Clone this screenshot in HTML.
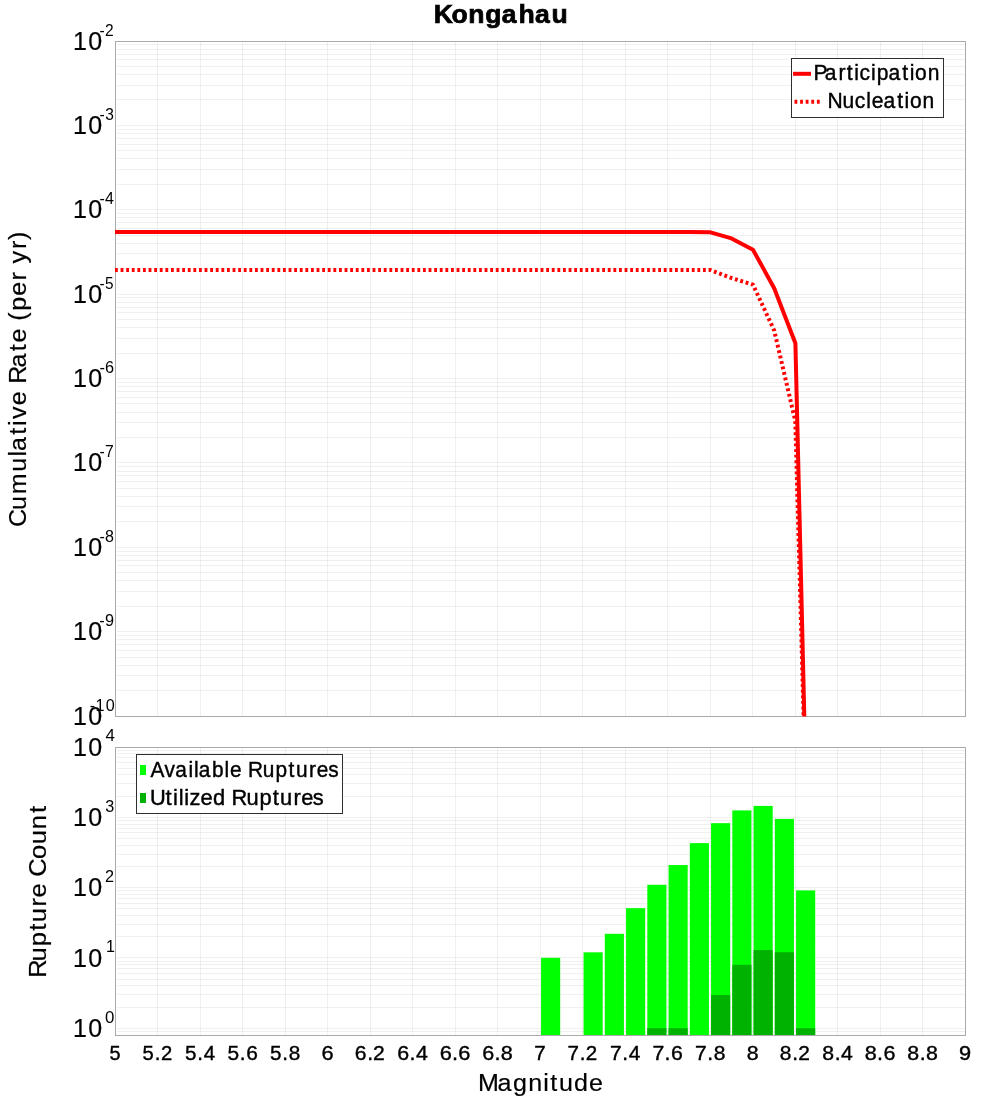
<!DOCTYPE html>
<html><head><meta charset="utf-8"><title>Kongahau</title>
<style>
html,body{margin:0;padding:0;background:#ffffff;}
svg{display:block;will-change:transform;}
text{font-family:"Liberation Sans",sans-serif;fill:#000;}
</style></head><body>
<svg width="1000" height="1100" viewBox="0 0 1000 1100">
<rect x="0" y="0" width="1000" height="1100" fill="#ffffff"/>
<rect x="157" y="42" width="1" height="674" fill="rgba(0,0,0,0.06)"/>
<rect x="200" y="42" width="1" height="674" fill="rgba(0,0,0,0.06)"/>
<rect x="242" y="42" width="1" height="674" fill="rgba(0,0,0,0.06)"/>
<rect x="285" y="42" width="1" height="674" fill="rgba(0,0,0,0.06)"/>
<rect x="327" y="42" width="1" height="674" fill="rgba(0,0,0,0.06)"/>
<rect x="370" y="42" width="1" height="674" fill="rgba(0,0,0,0.06)"/>
<rect x="412" y="42" width="1" height="674" fill="rgba(0,0,0,0.06)"/>
<rect x="455" y="42" width="1" height="674" fill="rgba(0,0,0,0.06)"/>
<rect x="497" y="42" width="1" height="674" fill="rgba(0,0,0,0.06)"/>
<rect x="540" y="42" width="1" height="674" fill="rgba(0,0,0,0.06)"/>
<rect x="582" y="42" width="1" height="674" fill="rgba(0,0,0,0.06)"/>
<rect x="625" y="42" width="1" height="674" fill="rgba(0,0,0,0.06)"/>
<rect x="667" y="42" width="1" height="674" fill="rgba(0,0,0,0.06)"/>
<rect x="710" y="42" width="1" height="674" fill="rgba(0,0,0,0.06)"/>
<rect x="752" y="42" width="1" height="674" fill="rgba(0,0,0,0.06)"/>
<rect x="795" y="42" width="1" height="674" fill="rgba(0,0,0,0.06)"/>
<rect x="837" y="42" width="1" height="674" fill="rgba(0,0,0,0.06)"/>
<rect x="880" y="42" width="1" height="674" fill="rgba(0,0,0,0.06)"/>
<rect x="922" y="42" width="1" height="674" fill="rgba(0,0,0,0.06)"/>
<rect x="117.0" y="44" width="848.0" height="1" fill="rgba(0,0,0,0.06)"/>
<rect x="117.0" y="49" width="848.0" height="1" fill="rgba(0,0,0,0.06)"/>
<rect x="117.0" y="54" width="848.0" height="1" fill="rgba(0,0,0,0.06)"/>
<rect x="117.0" y="59" width="848.0" height="1" fill="rgba(0,0,0,0.06)"/>
<rect x="117.0" y="66" width="848.0" height="1" fill="rgba(0,0,0,0.06)"/>
<rect x="117.0" y="74" width="848.0" height="1" fill="rgba(0,0,0,0.06)"/>
<rect x="117.0" y="85" width="848.0" height="1" fill="rgba(0,0,0,0.06)"/>
<rect x="117.0" y="99" width="848.0" height="1" fill="rgba(0,0,0,0.06)"/>
<rect x="117.0" y="125" width="848.0" height="1" fill="rgba(0,0,0,0.06)"/>
<rect x="117.0" y="129" width="848.0" height="1" fill="rgba(0,0,0,0.06)"/>
<rect x="117.0" y="133" width="848.0" height="1" fill="rgba(0,0,0,0.06)"/>
<rect x="117.0" y="138" width="848.0" height="1" fill="rgba(0,0,0,0.06)"/>
<rect x="117.0" y="144" width="848.0" height="1" fill="rgba(0,0,0,0.06)"/>
<rect x="117.0" y="150" width="848.0" height="1" fill="rgba(0,0,0,0.06)"/>
<rect x="117.0" y="158" width="848.0" height="1" fill="rgba(0,0,0,0.06)"/>
<rect x="117.0" y="169" width="848.0" height="1" fill="rgba(0,0,0,0.06)"/>
<rect x="117.0" y="184" width="848.0" height="1" fill="rgba(0,0,0,0.06)"/>
<rect x="117.0" y="209" width="848.0" height="1" fill="rgba(0,0,0,0.06)"/>
<rect x="117.0" y="213" width="848.0" height="1" fill="rgba(0,0,0,0.06)"/>
<rect x="117.0" y="217" width="848.0" height="1" fill="rgba(0,0,0,0.06)"/>
<rect x="117.0" y="222" width="848.0" height="1" fill="rgba(0,0,0,0.06)"/>
<rect x="117.0" y="228" width="848.0" height="1" fill="rgba(0,0,0,0.06)"/>
<rect x="117.0" y="235" width="848.0" height="1" fill="rgba(0,0,0,0.06)"/>
<rect x="117.0" y="243" width="848.0" height="1" fill="rgba(0,0,0,0.06)"/>
<rect x="117.0" y="253" width="848.0" height="1" fill="rgba(0,0,0,0.06)"/>
<rect x="117.0" y="268" width="848.0" height="1" fill="rgba(0,0,0,0.06)"/>
<rect x="117.0" y="294" width="848.0" height="1" fill="rgba(0,0,0,0.06)"/>
<rect x="117.0" y="297" width="848.0" height="1" fill="rgba(0,0,0,0.06)"/>
<rect x="117.0" y="302" width="848.0" height="1" fill="rgba(0,0,0,0.06)"/>
<rect x="117.0" y="307" width="848.0" height="1" fill="rgba(0,0,0,0.06)"/>
<rect x="117.0" y="312" width="848.0" height="1" fill="rgba(0,0,0,0.06)"/>
<rect x="117.0" y="319" width="848.0" height="1" fill="rgba(0,0,0,0.06)"/>
<rect x="117.0" y="327" width="848.0" height="1" fill="rgba(0,0,0,0.06)"/>
<rect x="117.0" y="338" width="848.0" height="1" fill="rgba(0,0,0,0.06)"/>
<rect x="117.0" y="353" width="848.0" height="1" fill="rgba(0,0,0,0.06)"/>
<rect x="117.0" y="378" width="848.0" height="1" fill="rgba(0,0,0,0.06)"/>
<rect x="117.0" y="382" width="848.0" height="1" fill="rgba(0,0,0,0.06)"/>
<rect x="117.0" y="386" width="848.0" height="1" fill="rgba(0,0,0,0.06)"/>
<rect x="117.0" y="391" width="848.0" height="1" fill="rgba(0,0,0,0.06)"/>
<rect x="117.0" y="397" width="848.0" height="1" fill="rgba(0,0,0,0.06)"/>
<rect x="117.0" y="403" width="848.0" height="1" fill="rgba(0,0,0,0.06)"/>
<rect x="117.0" y="412" width="848.0" height="1" fill="rgba(0,0,0,0.06)"/>
<rect x="117.0" y="422" width="848.0" height="1" fill="rgba(0,0,0,0.06)"/>
<rect x="117.0" y="437" width="848.0" height="1" fill="rgba(0,0,0,0.06)"/>
<rect x="117.0" y="462" width="848.0" height="1" fill="rgba(0,0,0,0.06)"/>
<rect x="117.0" y="466" width="848.0" height="1" fill="rgba(0,0,0,0.06)"/>
<rect x="117.0" y="471" width="848.0" height="1" fill="rgba(0,0,0,0.06)"/>
<rect x="117.0" y="475" width="848.0" height="1" fill="rgba(0,0,0,0.06)"/>
<rect x="117.0" y="481" width="848.0" height="1" fill="rgba(0,0,0,0.06)"/>
<rect x="117.0" y="488" width="848.0" height="1" fill="rgba(0,0,0,0.06)"/>
<rect x="117.0" y="496" width="848.0" height="1" fill="rgba(0,0,0,0.06)"/>
<rect x="117.0" y="506" width="848.0" height="1" fill="rgba(0,0,0,0.06)"/>
<rect x="117.0" y="521" width="848.0" height="1" fill="rgba(0,0,0,0.06)"/>
<rect x="117.0" y="547" width="848.0" height="1" fill="rgba(0,0,0,0.06)"/>
<rect x="117.0" y="551" width="848.0" height="1" fill="rgba(0,0,0,0.06)"/>
<rect x="117.0" y="555" width="848.0" height="1" fill="rgba(0,0,0,0.06)"/>
<rect x="117.0" y="560" width="848.0" height="1" fill="rgba(0,0,0,0.06)"/>
<rect x="117.0" y="565" width="848.0" height="1" fill="rgba(0,0,0,0.06)"/>
<rect x="117.0" y="572" width="848.0" height="1" fill="rgba(0,0,0,0.06)"/>
<rect x="117.0" y="580" width="848.0" height="1" fill="rgba(0,0,0,0.06)"/>
<rect x="117.0" y="591" width="848.0" height="1" fill="rgba(0,0,0,0.06)"/>
<rect x="117.0" y="606" width="848.0" height="1" fill="rgba(0,0,0,0.06)"/>
<rect x="117.0" y="631" width="848.0" height="1" fill="rgba(0,0,0,0.06)"/>
<rect x="117.0" y="635" width="848.0" height="1" fill="rgba(0,0,0,0.06)"/>
<rect x="117.0" y="639" width="848.0" height="1" fill="rgba(0,0,0,0.06)"/>
<rect x="117.0" y="644" width="848.0" height="1" fill="rgba(0,0,0,0.06)"/>
<rect x="117.0" y="650" width="848.0" height="1" fill="rgba(0,0,0,0.06)"/>
<rect x="117.0" y="657" width="848.0" height="1" fill="rgba(0,0,0,0.06)"/>
<rect x="117.0" y="665" width="848.0" height="1" fill="rgba(0,0,0,0.06)"/>
<rect x="117.0" y="675" width="848.0" height="1" fill="rgba(0,0,0,0.06)"/>
<rect x="117.0" y="690" width="848.0" height="1" fill="rgba(0,0,0,0.06)"/>
<rect x="157" y="748" width="1" height="287" fill="rgba(0,0,0,0.06)"/>
<rect x="200" y="748" width="1" height="287" fill="rgba(0,0,0,0.06)"/>
<rect x="242" y="748" width="1" height="287" fill="rgba(0,0,0,0.06)"/>
<rect x="285" y="748" width="1" height="287" fill="rgba(0,0,0,0.06)"/>
<rect x="327" y="748" width="1" height="287" fill="rgba(0,0,0,0.06)"/>
<rect x="370" y="748" width="1" height="287" fill="rgba(0,0,0,0.06)"/>
<rect x="412" y="748" width="1" height="287" fill="rgba(0,0,0,0.06)"/>
<rect x="455" y="748" width="1" height="287" fill="rgba(0,0,0,0.06)"/>
<rect x="497" y="748" width="1" height="287" fill="rgba(0,0,0,0.06)"/>
<rect x="540" y="748" width="1" height="287" fill="rgba(0,0,0,0.06)"/>
<rect x="582" y="748" width="1" height="287" fill="rgba(0,0,0,0.06)"/>
<rect x="625" y="748" width="1" height="287" fill="rgba(0,0,0,0.06)"/>
<rect x="667" y="748" width="1" height="287" fill="rgba(0,0,0,0.06)"/>
<rect x="710" y="748" width="1" height="287" fill="rgba(0,0,0,0.06)"/>
<rect x="752" y="748" width="1" height="287" fill="rgba(0,0,0,0.06)"/>
<rect x="795" y="748" width="1" height="287" fill="rgba(0,0,0,0.06)"/>
<rect x="837" y="748" width="1" height="287" fill="rgba(0,0,0,0.06)"/>
<rect x="880" y="748" width="1" height="287" fill="rgba(0,0,0,0.06)"/>
<rect x="922" y="748" width="1" height="287" fill="rgba(0,0,0,0.06)"/>
<rect x="117.0" y="1031" width="848.0" height="1" fill="rgba(0,0,0,0.06)"/>
<rect x="117.0" y="1028" width="848.0" height="1" fill="rgba(0,0,0,0.06)"/>
<rect x="117.0" y="1007" width="848.0" height="1" fill="rgba(0,0,0,0.06)"/>
<rect x="117.0" y="994" width="848.0" height="1" fill="rgba(0,0,0,0.06)"/>
<rect x="117.0" y="985" width="848.0" height="1" fill="rgba(0,0,0,0.06)"/>
<rect x="117.0" y="979" width="848.0" height="1" fill="rgba(0,0,0,0.06)"/>
<rect x="117.0" y="973" width="848.0" height="1" fill="rgba(0,0,0,0.06)"/>
<rect x="117.0" y="968" width="848.0" height="1" fill="rgba(0,0,0,0.06)"/>
<rect x="117.0" y="964" width="848.0" height="1" fill="rgba(0,0,0,0.06)"/>
<rect x="117.0" y="961" width="848.0" height="1" fill="rgba(0,0,0,0.06)"/>
<rect x="117.0" y="957" width="848.0" height="1" fill="rgba(0,0,0,0.06)"/>
<rect x="117.0" y="936" width="848.0" height="1" fill="rgba(0,0,0,0.06)"/>
<rect x="117.0" y="924" width="848.0" height="1" fill="rgba(0,0,0,0.06)"/>
<rect x="117.0" y="915" width="848.0" height="1" fill="rgba(0,0,0,0.06)"/>
<rect x="117.0" y="908" width="848.0" height="1" fill="rgba(0,0,0,0.06)"/>
<rect x="117.0" y="903" width="848.0" height="1" fill="rgba(0,0,0,0.06)"/>
<rect x="117.0" y="898" width="848.0" height="1" fill="rgba(0,0,0,0.06)"/>
<rect x="117.0" y="894" width="848.0" height="1" fill="rgba(0,0,0,0.06)"/>
<rect x="117.0" y="890" width="848.0" height="1" fill="rgba(0,0,0,0.06)"/>
<rect x="117.0" y="887" width="848.0" height="1" fill="rgba(0,0,0,0.06)"/>
<rect x="117.0" y="866" width="848.0" height="1" fill="rgba(0,0,0,0.06)"/>
<rect x="117.0" y="854" width="848.0" height="1" fill="rgba(0,0,0,0.06)"/>
<rect x="117.0" y="845" width="848.0" height="1" fill="rgba(0,0,0,0.06)"/>
<rect x="117.0" y="838" width="848.0" height="1" fill="rgba(0,0,0,0.06)"/>
<rect x="117.0" y="832" width="848.0" height="1" fill="rgba(0,0,0,0.06)"/>
<rect x="117.0" y="828" width="848.0" height="1" fill="rgba(0,0,0,0.06)"/>
<rect x="117.0" y="824" width="848.0" height="1" fill="rgba(0,0,0,0.06)"/>
<rect x="117.0" y="820" width="848.0" height="1" fill="rgba(0,0,0,0.06)"/>
<rect x="117.0" y="817" width="848.0" height="1" fill="rgba(0,0,0,0.06)"/>
<rect x="117.0" y="796" width="848.0" height="1" fill="rgba(0,0,0,0.06)"/>
<rect x="117.0" y="783" width="848.0" height="1" fill="rgba(0,0,0,0.06)"/>
<rect x="117.0" y="774" width="848.0" height="1" fill="rgba(0,0,0,0.06)"/>
<rect x="117.0" y="768" width="848.0" height="1" fill="rgba(0,0,0,0.06)"/>
<rect x="117.0" y="762" width="848.0" height="1" fill="rgba(0,0,0,0.06)"/>
<rect x="117.0" y="757" width="848.0" height="1" fill="rgba(0,0,0,0.06)"/>
<rect x="117.0" y="753" width="848.0" height="1" fill="rgba(0,0,0,0.06)"/>
<rect x="117.0" y="750" width="848.0" height="1" fill="rgba(0,0,0,0.06)"/>
<rect x="541.062" y="957.8" width="19.125" height="77.20" fill="#00ff00"/>
<rect x="583.562" y="952.3" width="19.125" height="82.70" fill="#00ff00"/>
<rect x="604.812" y="933.8" width="19.125" height="101.20" fill="#00ff00"/>
<rect x="626.062" y="908.15" width="19.125" height="126.85" fill="#00ff00"/>
<rect x="647.312" y="884.75" width="19.125" height="150.25" fill="#00ff00"/>
<rect x="668.563" y="865.05" width="19.125" height="169.95" fill="#00ff00"/>
<rect x="689.812" y="843.1" width="19.125" height="191.90" fill="#00ff00"/>
<rect x="711.062" y="823.15" width="19.125" height="211.85" fill="#00ff00"/>
<rect x="732.312" y="810.4" width="19.125" height="224.60" fill="#00ff00"/>
<rect x="753.563" y="805.9" width="19.125" height="229.10" fill="#00ff00"/>
<rect x="774.813" y="818.9" width="19.125" height="216.10" fill="#00ff00"/>
<rect x="796.062" y="890.4" width="19.125" height="144.60" fill="#00ff00"/>
<rect x="647.312" y="1028.2" width="19.125" height="6.80" fill="#00b200"/>
<rect x="668.563" y="1028.2" width="19.125" height="6.80" fill="#00b200"/>
<rect x="711.062" y="995.0" width="19.125" height="40.00" fill="#00b200"/>
<rect x="732.312" y="964.8" width="19.125" height="70.20" fill="#00b200"/>
<rect x="753.563" y="950.0" width="19.125" height="85.00" fill="#00b200"/>
<rect x="774.813" y="952.2" width="19.125" height="82.80" fill="#00b200"/>
<rect x="796.062" y="1028.2" width="19.125" height="6.80" fill="#00b200"/>
<rect x="115" y="41" width="851" height="1" fill="#aaaaaa"/>
<rect x="115" y="716" width="851" height="1" fill="#aaaaaa"/>
<rect x="115" y="41" width="1" height="676" fill="#aaaaaa"/>
<rect x="965" y="41" width="1" height="676" fill="#aaaaaa"/>
<rect x="115" y="747" width="851" height="1" fill="#aaaaaa"/>
<rect x="115" y="1035" width="851" height="1" fill="#aaaaaa"/>
<rect x="115" y="747" width="1" height="289" fill="#aaaaaa"/>
<rect x="965" y="747" width="1" height="289" fill="#aaaaaa"/>
<clipPath id="cp"><rect x="115" y="41" width="851" height="675.5"/></clipPath>
<g clip-path="url(#cp)" fill="none" stroke="#ff0000" stroke-width="4" stroke-linejoin="bevel">
<polyline stroke-dasharray="2.8 2.8" points="115,270 710.5,270 731.5,278 753,284.7 774.2,330.5 795.3,421 803.6,716 804.2,740"/>
<polyline points="115,232 689,232 710.5,232.3 731.5,238.4 753,249.8 774.2,288.2 795.4,343.2 804.3,716 804.9,740"/>
</g>
<rect x="791.5" y="58.5" width="152" height="59" fill="rgba(255,255,255,0.88)" stroke="rgba(0,0,0,0.82)" stroke-width="1"/>
<line x1="793" y1="73.8" x2="811" y2="73.8" stroke="#ff0000" stroke-width="4"/>
<line x1="794.5" y1="101.85" x2="820" y2="101.85" stroke="#ff0000" stroke-width="4" stroke-dasharray="2.8 2.8"/>
<rect x="136.5" y="754.5" width="206" height="59" fill="rgba(255,255,255,0.88)" stroke="rgba(0,0,0,0.82)" stroke-width="1"/>
<rect x="140" y="765" width="6" height="10" fill="#00ff00"/>
<rect x="140" y="793" width="6" height="10" fill="#00b200"/>
<text transform="translate(0,22.70) scale(1.0539,1)" x="411.50 428.45 444.34 460.40 476.13 491.99 507.59 523.28" y="0" style="font-size:25.20px;font-weight:bold;stroke:#000;stroke-width:0.7px;">Kongahau</text>
<text transform="translate(0,1091.20) scale(1.0201,1)" x="468.50 487.61 502.86 517.80 532.47 539.50 548.02 562.68 577.43" y="0" style="font-size:24.60px;stroke:#000;stroke-width:0.2px;">Magnitude</text>
<text transform="translate(25.90,0) rotate(-90) scale(1.0259,1)" x="-513.68 -497.11 -481.70 -459.73 -444.99 -439.61 -423.71 -415.16 -408.47 -395.08 -381.17 -374.18 -358.20 -342.29 -333.88 -319.97 -312.74 -302.80 -288.37 -273.31 -264.90 -256.76 -242.61 -233.86" y="0" style="font-size:24.50px;stroke:#000;stroke-width:0.2px;">Cumulative Rate (per yr)</text>
<text transform="translate(46.10,0) rotate(-90) scale(1.0432,1)" x="-937.34 -921.58 -907.02 -892.17 -883.94 -868.90 -860.37 -846.63 -840.49 -823.47 -809.41 -794.95 -779.38" y="0" style="font-size:24.50px;stroke:#000;stroke-width:0.2px;">Rupture Count</text>
<text transform="translate(0,79.75) scale(0.9947,1)" x="817.84 829.19 843.09 851.37 858.82 864.03 875.62 881.46 893.23 907.07 914.52 920.01 932.64" y="0" style="font-size:21.16px;stroke:#000;stroke-width:0.4px;">Participation</text>
<text transform="translate(0,107.65) scale(0.9951,1)" x="831.47 846.66 859.04 870.60 876.15 887.79 901.62 909.05 914.53 927.12" y="0" style="font-size:21.16px;stroke:#000;stroke-width:0.4px;">Nucleation</text>
<text transform="translate(0,776.70) scale(0.9855,1)" x="152.67 166.96 177.84 191.19 196.82 201.57 215.13 227.80 233.38 245.47 251.67 266.54 279.60 292.79 300.27 313.68 321.39 333.05" y="0" style="font-size:21.16px;stroke:#000;stroke-width:0.4px;">Available Ruptures</text>
<text transform="translate(0,804.60) scale(1.0329,1)" x="145.34 160.30 167.53 172.98 178.44 183.47 194.01 206.13 218.36 224.09 238.54 251.16 264.01 271.15 284.18 291.57 302.72" y="0" style="font-size:21.16px;stroke:#000;stroke-width:0.4px;">Utilized Ruptures</text>
<text transform="translate(0,1059.70) scale(0.9448,1)" x="115.88" y="0" style="font-size:21.06px;stroke:#000;stroke-width:0.4px;">5</text>
<text transform="translate(0,1059.70) scale(0.9614,1)" x="148.35 160.99 167.52" y="0" style="font-size:21.06px;stroke:#000;stroke-width:0.4px;">5.2</text>
<text transform="translate(0,1059.70) scale(0.9786,1)" x="189.16 201.54 208.28" y="0" style="font-size:21.06px;stroke:#000;stroke-width:0.4px;">5.4</text>
<text transform="translate(0,1059.70) scale(0.9933,1)" x="229.14 241.30 247.99" y="0" style="font-size:21.06px;stroke:#000;stroke-width:0.4px;">5.6</text>
<text transform="translate(0,1059.70) scale(0.9827,1)" x="274.86 287.18 293.91" y="0" style="font-size:21.06px;stroke:#000;stroke-width:0.4px;">5.8</text>
<text transform="translate(0,1059.70) scale(1.0361,1)" x="310.33" y="0" style="font-size:21.06px;stroke:#000;stroke-width:0.4px;">6</text>
<text transform="translate(0,1059.70) scale(1.0033,1)" x="353.57 365.96 371.90" y="0" style="font-size:21.06px;stroke:#000;stroke-width:0.4px;">6.2</text>
<text transform="translate(0,1059.70) scale(1.0188,1)" x="389.89 402.07 408.22" y="0" style="font-size:21.06px;stroke:#000;stroke-width:0.4px;">6.4</text>
<text transform="translate(0,1059.70) scale(1.0353,1)" x="424.70 436.65 442.75" y="0" style="font-size:21.06px;stroke:#000;stroke-width:0.4px;">6.6</text>
<text transform="translate(0,1059.70) scale(1.0242,1)" x="470.78 482.88 489.02" y="0" style="font-size:21.06px;stroke:#000;stroke-width:0.4px;">6.8</text>
<text transform="translate(0,1059.70) scale(0.9792,1)" x="545.64" y="0" style="font-size:21.06px;stroke:#000;stroke-width:0.4px;">7</text>
<text transform="translate(0,1059.70) scale(0.9773,1)" x="580.64 593.17 599.47" y="0" style="font-size:21.06px;stroke:#000;stroke-width:0.4px;">7.2</text>
<text transform="translate(0,1059.70) scale(0.9941,1)" x="613.58 625.87 632.37" y="0" style="font-size:21.06px;stroke:#000;stroke-width:0.4px;">7.4</text>
<text transform="translate(0,1059.70) scale(1.0097,1)" x="646.15 658.23 664.68" y="0" style="font-size:21.06px;stroke:#000;stroke-width:0.4px;">7.6</text>
<text transform="translate(0,1059.70) scale(0.9988,1)" x="695.79 708.01 714.50" y="0" style="font-size:21.06px;stroke:#000;stroke-width:0.4px;">7.8</text>
<text transform="translate(0,1059.70) scale(1.0119,1)" x="737.87" y="0" style="font-size:21.06px;stroke:#000;stroke-width:0.4px;">8</text>
<text transform="translate(0,1059.70) scale(0.9924,1)" x="785.82 798.25 804.34" y="0" style="font-size:21.06px;stroke:#000;stroke-width:0.4px;">8.2</text>
<text transform="translate(0,1059.70) scale(1.0083,1)" x="815.59 827.80 834.10" y="0" style="font-size:21.06px;stroke:#000;stroke-width:0.4px;">8.4</text>
<text transform="translate(0,1059.70) scale(1.0242,1)" x="844.34 856.33 862.58" y="0" style="font-size:21.06px;stroke:#000;stroke-width:0.4px;">8.6</text>
<text transform="translate(0,1059.70) scale(1.0134,1)" x="895.36 907.49 913.78" y="0" style="font-size:21.06px;stroke:#000;stroke-width:0.4px;">8.8</text>
<text transform="translate(0,1059.70) scale(1.0340,1)" x="927.45" y="0" style="font-size:21.06px;stroke:#000;stroke-width:0.4px;">9</text>
<text transform="translate(0,49.60) scale(0.9938,1)" x="73.35 88.81" y="0" style="font-size:25.19px;stroke:#000;stroke-width:0.2px;">10</text>
<text transform="translate(0,35.50) scale(0.9178,1)" x="108.32 114.34" y="0" style="font-size:16.93px;">-2</text>
<text transform="translate(0,133.97) scale(0.9938,1)" x="73.35 88.81" y="0" style="font-size:25.19px;stroke:#000;stroke-width:0.2px;">10</text>
<text transform="translate(0,119.88) scale(0.9166,1)" x="108.46 114.75" y="0" style="font-size:16.93px;">-3</text>
<text transform="translate(0,218.35) scale(0.9938,1)" x="73.35 88.81" y="0" style="font-size:25.19px;stroke:#000;stroke-width:0.2px;">10</text>
<text transform="translate(0,204.25) scale(0.9425,1)" x="105.46 111.51" y="0" style="font-size:16.93px;">-4</text>
<text transform="translate(0,302.73) scale(0.9938,1)" x="73.35 88.81" y="0" style="font-size:25.19px;stroke:#000;stroke-width:0.2px;">10</text>
<text transform="translate(0,288.62) scale(0.9058,1)" x="109.76 116.05" y="0" style="font-size:16.93px;">-5</text>
<text transform="translate(0,387.10) scale(0.9938,1)" x="73.35 88.81" y="0" style="font-size:25.19px;stroke:#000;stroke-width:0.2px;">10</text>
<text transform="translate(0,373.00) scale(0.9637,1)" x="103.12 108.99" y="0" style="font-size:16.93px;">-6</text>
<text transform="translate(0,471.48) scale(0.9938,1)" x="73.35 88.81" y="0" style="font-size:25.19px;stroke:#000;stroke-width:0.2px;">10</text>
<text transform="translate(0,457.38) scale(0.9276,1)" x="107.17 113.30" y="0" style="font-size:16.93px;">-7</text>
<text transform="translate(0,555.85) scale(0.9938,1)" x="73.35 88.81" y="0" style="font-size:25.19px;stroke:#000;stroke-width:0.2px;">10</text>
<text transform="translate(0,541.75) scale(0.9485,1)" x="104.78 110.77" y="0" style="font-size:16.93px;">-8</text>
<text transform="translate(0,640.23) scale(0.9938,1)" x="73.35 88.81" y="0" style="font-size:25.19px;stroke:#000;stroke-width:0.2px;">10</text>
<text transform="translate(0,626.12) scale(0.9619,1)" x="103.31 109.15" y="0" style="font-size:16.93px;">-9</text>
<text transform="translate(0,724.60) scale(0.9938,1)" x="73.35 88.81" y="0" style="font-size:25.19px;stroke:#000;stroke-width:0.2px;">10</text>
<text transform="translate(0,710.50) scale(0.9565,1)" x="93.76 99.96 110.44" y="0" style="font-size:16.93px;">-10</text>
<text transform="translate(0,755.70) scale(0.9938,1)" x="73.35 88.81" y="0" style="font-size:25.19px;stroke:#000;stroke-width:0.2px;">10</text>
<text transform="translate(0,741.40) scale(0.9965,1)" x="105.77" y="0" style="font-size:16.93px;">4</text>
<text transform="translate(0,826.00) scale(0.9938,1)" x="73.35 88.81" y="0" style="font-size:25.19px;stroke:#000;stroke-width:0.2px;">10</text>
<text transform="translate(0,811.70) scale(0.9569,1)" x="109.94" y="0" style="font-size:16.93px;">3</text>
<text transform="translate(0,896.29) scale(0.9938,1)" x="73.35 88.81" y="0" style="font-size:25.19px;stroke:#000;stroke-width:0.2px;">10</text>
<text transform="translate(0,881.99) scale(0.9604,1)" x="109.28" y="0" style="font-size:16.93px;">2</text>
<text transform="translate(0,966.59) scale(0.9938,1)" x="73.35 88.81" y="0" style="font-size:25.19px;stroke:#000;stroke-width:0.2px;">10</text>
<text transform="translate(0,952.29) scale(0.9516,1)" x="111.32" y="0" style="font-size:16.93px;">1</text>
<text transform="translate(0,1036.89) scale(0.9938,1)" x="73.35 88.81" y="0" style="font-size:25.19px;stroke:#000;stroke-width:0.2px;">10</text>
<text transform="translate(0,1022.59) scale(0.9963,1)" x="105.38" y="0" style="font-size:16.93px;">0</text>
</svg>
</body></html>
